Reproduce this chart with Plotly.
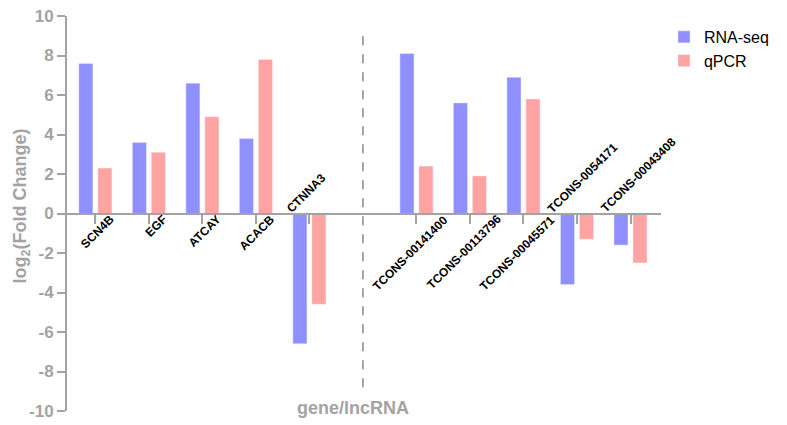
import plotly.graph_objects as go

# categories (the blank one is the gap where the dashed divider sits)
genes = ['SCN4B', 'EGF', 'ATCAY', 'ACACB', 'CTNNA3', ' ',
         'TCONS-00141400', 'TCONS-00113796', 'TCONS-00045571', 'TCONS-0054171', 'TCONS-00043408']
rna_seq = [7.6, 3.6, 6.6, 3.8, -6.6, None, 8.1, 5.6, 6.9, -3.6, -1.6]
qpcr = [2.3, 3.1, 4.9, 7.8, -4.6, None, 2.4, 1.9, 5.8, -1.3, -2.5]
y_ticks = [-10, -8, -6, -4, -2, 0, 2, 4, 6, 8, 10]

AXIS_GRAY = '#a3a3a3'
FONT = 'Arial, Liberation Sans, sans-serif'

fig = go.Figure()
fig.add_trace(go.Bar(x=genes, y=rna_seq, name='RNA-seq', marker_color='#8f8fff'))
fig.add_trace(go.Bar(x=genes, y=qpcr, name='qPCR', marker_color='#ffa3a3'))

# rotated gene labels sitting on the zero line
for g, a, b in zip(genes, rna_seq, qpcr):
    if a is None:
        continue
    long = len(g) > 8
    if a >= 0:
        fig.add_annotation(x=g, y=0, text='<b>%s</b>' % g, showarrow=False, textangle=-45,
                           xanchor='right', yanchor='top',
                           xshift=37 if long else 24, yshift=4,
                           font=dict(family=FONT, size=12, color='black'))
    else:
        fig.add_annotation(x=g, y=0, text='<b>%s</b>' % g, showarrow=False, textangle=-45,
                           xanchor='left', yanchor='bottom',
                           xshift=-35 if long else -28, yshift=-5,
                           font=dict(family=FONT, size=12, color='black'))

# dashed divider between genes and lncRNAs
fig.add_shape(type='line', xref='x', yref='y', x0=' ', x1=' ', y0=-8.8, y1=9.1,
              line=dict(color='#888888', width=1.5, dash='dash'))

fig.add_annotation(xref='paper', yref='paper', x=0.481, y=0.008, yanchor='middle',
                   xanchor='center', text='<b>gene/lncRNA</b>', showarrow=False,
                   font=dict(family=FONT, size=18, color=AXIS_GRAY))
fig.add_annotation(xref='paper', yref='paper', x=-0.076, y=0.52, textangle=-90,
                   xanchor='center', yanchor='middle',
                   text='<b>log<sub>2</sub>(Fold Change)</b>', showarrow=False,
                   font=dict(family=FONT, size=18, color=AXIS_GRAY))

# page body adds an 8px margin, so the figure is offset to line up with the window
fig.update_layout(
    width=779, height=417,
    margin=dict(l=59, r=126, t=8, b=14),
    paper_bgcolor='white', plot_bgcolor='white',
    barmode='group', bargap=0.29, bargroupgap=0.26,
    font=dict(family=FONT),
    xaxis=dict(type='category', categoryorder='array', categoryarray=genes,
               tickvals=[g for g, a in zip(genes, rna_seq) if a is not None],
               range=[-0.53, 10.57], showticklabels=False, automargin=False,
               anchor='free', position=0.5,
               showline=True, linecolor=AXIS_GRAY, linewidth=2,
               ticks='outside', ticklen=9, tickwidth=1.5, tickcolor=AXIS_GRAY,
               showgrid=False, zeroline=False),
    yaxis=dict(range=[-10, 10], tickvals=y_ticks, ticktext=[str(v) for v in y_ticks],
               showgrid=False, zeroline=False,
               automargin=False, ticklabeloverflow='allow',
               showline=True, linecolor=AXIS_GRAY, linewidth=2,
               ticks='outside', ticklen=8, tickwidth=2, tickcolor=AXIS_GRAY,
               tickfont=dict(family=FONT, size=17, color=AXIS_GRAY, weight='bold')),
    legend=dict(x=1.005, y=0.99, xanchor='left', yanchor='top',
                font=dict(family=FONT, size=16, color='black'), itemwidth=30),
)

fig.write_html('out.html')
